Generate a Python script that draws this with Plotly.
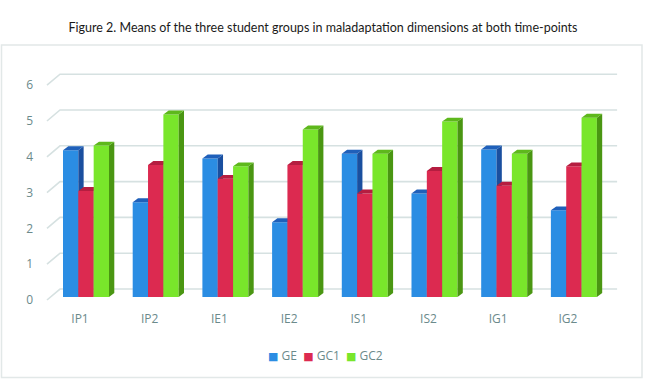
import plotly.graph_objects as go

# ---- data ----
categories = ["IP1", "IP2", "IE1", "IE2", "IS1", "IS2", "IG1", "IG2"]
series_names = ["GE", "GC1", "GC2"]
ge_values = [4.10, 2.65, 3.87, 2.09, 4.00, 2.89, 4.12, 2.42]
gc1_values = [2.96, 3.69, 3.30, 3.69, 2.89, 3.52, 3.11, 3.65]
gc2_values = [4.23, 5.10, 3.65, 4.68, 4.00, 4.90, 4.00, 5.01]
y_ticks = [0, 1, 2, 3, 4, 5, 6]

title_text = "Figure 2. Means of the three student groups in maladaptation dimensions at both time-points"

# ---- style ----
front_colors = ["#2b8de3", "#dc2a50", "#79e62b"]
side_colors = ["#1a4f9f", "#9a1530", "#4a9612"]
top_colors = ["#1f60ba", "#b51d40", "#5eb81c"]
text_color = "#6b8a8b"
grid_color = "#d6e1e1"

BAR_W = 0.22   # width of one bar in category units
DX = 0.076     # 3D depth, horizontal (category units)
DY = 0.11      # 3D depth, vertical (value units)

fig = go.Figure()

# back-wall gridlines with slanted left part (3D floor effect), on the base axes
gx, gy = [], []
for k in y_ticks:
    gx += [-0.56, -0.373, 7.62, None]
    gy += [k - 0.084, k + 0.223, k + 0.223, None]
fig.add_trace(go.Scatter(x=gx, y=gy, mode="lines",
                         line=dict(color=grid_color, width=1.6),
                         showlegend=False, hoverinfo="skip",
                         xaxis="x", yaxis="y"))

all_values = [ge_values, gc1_values, gc2_values]
for j, (name, vals) in enumerate(zip(series_names, all_values)):
    suffix = str(j + 2)   # each series on its own overlaid axes -> correct stacking
    xa, ya = "x" + suffix, "y" + suffix
    xs = [i + (j - 1) * BAR_W for i in range(len(categories))]

    # front faces
    fig.add_trace(go.Bar(x=xs, y=vals, width=BAR_W, name=name,
                         marker=dict(color=front_colors[j], line=dict(width=0)),
                         customdata=categories, showlegend=False,
                         hovertemplate="%{customdata}: %{y}<extra>" + name + "</extra>",
                         xaxis=xa, yaxis=ya))

    # side and top faces
    sx, sy = [], []
    tx, ty = [], []
    for x, v in zip(xs, vals):
        xl, xr = x - BAR_W / 2, x + BAR_W / 2
        sx += [xr, xr, xr + DX, xr + DX, None]
        sy += [0, v, v + DY, DY, None]
        tx += [xl, xr, xr + DX, xl + DX, None]
        ty += [v, v, v + DY, v + DY, None]
    fig.add_trace(go.Scatter(x=sx, y=sy, mode="lines", fill="toself",
                             fillcolor=side_colors[j], line=dict(width=0, color=side_colors[j]),
                             showlegend=False, hoverinfo="skip", xaxis=xa, yaxis=ya))
    fig.add_trace(go.Scatter(x=tx, y=ty, mode="lines", fill="toself",
                             fillcolor=top_colors[j], line=dict(width=0, color=top_colors[j]),
                             showlegend=False, hoverinfo="skip", xaxis=xa, yaxis=ya))

W, H = 646, 379
ML, MR, MT, MB = 40, 16, 60, 69
pw, ph = W - ML - MR, H - MT - MB

def px_to_paper_x(p):
    return (p - ML) / pw

def px_to_paper_y(p):
    return (H - MB - p) / ph

font_tick = dict(family="Open Sans, DejaVu Sans, sans-serif", size=12, color=text_color)

# compact legend as a text line
legend_parts = []
for name, col in zip(series_names, front_colors):
    legend_parts.append(f"<span style='color:{col};font-size:11px'>■</span> {name}")
legend_text = "&nbsp;&nbsp;".join(legend_parts)

overlay_axes = {}
for n in (2, 3, 4):
    overlay_axes[f"xaxis{n}"] = dict(overlaying="x", matches="x", visible=False)
    overlay_axes[f"yaxis{n}"] = dict(overlaying="y", matches="y", visible=False)

fig.update_layout(
    width=W, height=H,
    margin=dict(l=ML, r=MR, t=MT, b=MB, autoexpand=False),
    paper_bgcolor="white", plot_bgcolor="white",
    barmode="overlay",
    showlegend=False,
    title=dict(text=title_text, x=0.5, xanchor="center", y=1 - 28 / H, yanchor="middle",
               font=dict(family="Lato, Open Sans, sans-serif", size=12.5, color="#1a1a1a"),
               automargin=False),
    xaxis=dict(range=[-0.66, 7.805], tickmode="array", tickvals=list(range(len(categories))),
               ticktext=categories, showgrid=False, zeroline=False, showline=False,
               ticks="", tickfont=font_tick, ticklabelshift=-6, automargin=False),
    yaxis=dict(range=[-0.363, 6.62], tickmode="array", tickvals=y_ticks,
               ticktext=[str(t) for t in y_ticks], showgrid=False, zeroline=False,
               showline=False, ticks="", tickfont=font_tick, ticklabelshift=3,
               ticklabelstandoff=6, automargin=False),
    annotations=[dict(text=legend_text, xref="paper", yref="paper",
                      x=px_to_paper_x(325), y=px_to_paper_y(355),
                      xanchor="center", yanchor="middle", showarrow=False,
                      font=font_tick)],
    shapes=[dict(type="rect", xref="paper", yref="paper",
                 x0=px_to_paper_x(1.5), x1=px_to_paper_x(642), y0=px_to_paper_y(377.5),
                 y1=px_to_paper_y(45), line=dict(color="#e2e8e8", width=1.5),
                 fillcolor="rgba(0,0,0,0)", layer="below")],
    **overlay_axes,
)

fig.write_html("out.html", config={"displayModeBar": False},
               post_script="document.body.style.margin='0';document.body.style.overflow='hidden';")
